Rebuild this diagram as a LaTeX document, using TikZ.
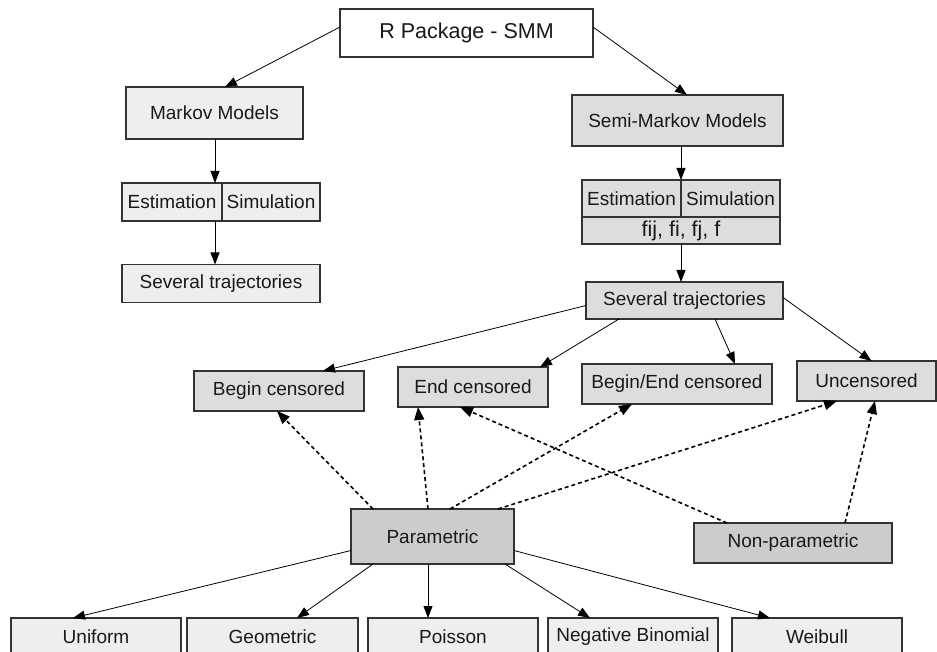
\documentclass[tikz,border=0pt]{standalone}
\usepackage{fontspec}
\setmainfont{Liberation Sans}
\usetikzlibrary{arrows.meta,calc}
\definecolor{bd}{HTML}{333333}
\definecolor{fa}{HTML}{EEEEEE}
\definecolor{fb}{HTML}{DDDDDD}
\definecolor{fc}{HTML}{CCCCCC}
\begin{document}
\begin{tikzpicture}[x=1pt,y=-1pt,
 box/.style={draw=bd,line width=1.1pt,rectangle,inner sep=0pt,outer sep=0pt,
   font=\fontsize{19}{22}\selectfont,text=black!90},
 solidarrow/.style={line width=0.8pt,-{Triangle[length=12pt,width=9pt]}},
 dasharrow/.style={line width=1.6pt,dash pattern=on 4pt off 3pt,-{Triangle[length=13pt,width=10pt]}},
]
\useasboundingbox[fill=white] (0,0) rectangle (937,652);

% top
\node[box,fill=white,minimum width=253pt,minimum height=48pt,font=\fontsize{21.5}{24}\selectfont] (pkg) at (466.5,33) {R Package - SMM};

% Markov side
\node[box,fill=fa,minimum width=177pt,minimum height=52pt] (mm) at (214.5,113) {Markov Models};
\node[box,fill=fa,minimum width=100pt,minimum height=38pt] (estL) at (172,202) {Estimation};
\node[box,fill=fa,minimum width=98pt,minimum height=38pt] (simL) at (271,202) {Simulation};
\node[box,fill=fa,minimum width=198pt,minimum height=38pt] (sevL) at (221,283.5) {Several trajectories};

% Semi-Markov side
\node[box,fill=fb,minimum width=211pt,minimum height=51pt] (smm) at (677.5,120.5) {Semi-Markov Models};
\node[box,fill=fb,minimum width=99pt,minimum height=37pt] (estR) at (631.5,198.5) {Estimation};
\node[box,fill=fb,minimum width=99pt,minimum height=37pt] (simR) at (730.5,198.5) {Simulation};
\node[box,fill=fb,minimum width=198pt,minimum height=27pt,font=\fontsize{21.5}{24}\selectfont] (fij) at (681,230.5) {fij, fi, fj, f};
\node[box,fill=fb,minimum width=197pt,minimum height=37pt] (sevR) at (684.5,300.5) {Several trajectories};

% censoring
\node[box,fill=fb,minimum width=170pt,minimum height=40pt] (bc) at (279,391) {Begin censored};
\node[box,fill=fb,minimum width=150pt,minimum height=40pt] (ec) at (473,387) {End censored};
\node[box,fill=fb,minimum width=190pt,minimum height=40pt] (bec) at (677,384) {Begin/End censored};
\node[box,fill=fb,minimum width=139pt,minimum height=40pt] (unc) at (866.5,381) {Uncensored};

% methods
\node[box,fill=fc,minimum width=163pt,minimum height=55pt] (par) at (432.5,536.5) {Parametric};
\node[box,fill=fc,minimum width=198pt,minimum height=40pt] (np) at (793,543) {Non-parametric};

% distributions
\node[box,fill=fa,minimum width=170pt,minimum height=38pt] (uni) at (96,637) {Uniform};
\node[box,fill=fa,minimum width=171pt,minimum height=38pt] (geo) at (272.5,637) {Geometric};
\node[box,fill=fa,minimum width=170pt,minimum height=38pt] (poi) at (453,637) {Poisson};
\node[box,fill=fa,minimum width=170pt,minimum height=38pt] (nb) at (633,637) {Negative Binomial};
\node[box,fill=fa,minimum width=170pt,minimum height=38pt] (wei) at (817,637) {Weibull};

% solid arrows
\draw[solidarrow] ($(pkg.west)+(0,-6)$) -- ($(mm.north)+(10.5,0)$);
\draw[solidarrow] ($(pkg.east)+(0,-6)$) -- ($(smm.north)+(9.5,0)$);
\draw[solidarrow] ($(mm.south)+(0.5,0)$) -- ($(mm.south |- estL.north)+(0.5,0)$);
\draw[solidarrow] ($(mm.south |- estL.south)+(0.5,0)$) -- ($(mm.south |- sevL.north)+(0.5,0)$);
\draw[solidarrow] (fij |- smm.south) -- (fij |- estR.north);
\draw[solidarrow] (fij.south) -- (fij.south |- sevR.north);

\draw[solidarrow] ($(sevR.west)+(0,5)$) -- ($(bc.north)+(44,0)$);
\draw[solidarrow] ($(sevR.south)+(-65.5,0)$) -- ($(ec.north east)+(-8,0)$);
\draw[solidarrow] ($(sevR.south)+(30.5,0)$) -- ($(bec.north)+(58,0)$);
\draw[solidarrow] ($(sevR.east)+(0,-3)$) -- ($(unc.north)+(5,0)$);

% dashed arrows
\draw[dasharrow] ($(par.north)+(-59.5,0)$) -- ($(bc.south)+(-2,0)$);
\draw[dasharrow] ($(par.north)+(-4.5,0)$) -- ($(ec.south)+(-55,0)$);
\draw[dasharrow] ($(par.north)+(17.5,0)$) -- ($(bec.south)+(-45,0)$);
\draw[dasharrow] ($(par.north)+(65.5,0)$) -- ($(unc.south)+(-29.5,0)$);
\draw[dasharrow] ($(np.north)+(-66,0)$) -- ($(ec.south)+(-13,0)$);
\draw[dasharrow] ($(np.north)+(52,0)$) -- ($(unc.south)+(8.5,0)$);

% parametric to distributions
\draw[solidarrow] ($(par.west)+(0,14)$) -- ($(uni.north)+(-23,0)$);
\draw[solidarrow] ($(par.south)+(-59.5,0)$) -- ($(geo.north)+(24.5,0)$);
\draw[solidarrow] ($(par.south)+(-4.5,0)$) -- ($(par.south |- poi.north)+(-4.5,0)$);
\draw[solidarrow] ($(par.south)+(72.5,0)$) -- ($(nb.north)+(-43,0)$);
\draw[solidarrow] ($(par.east)+(0,14)$) -- ($(wei.north)+(-47,0)$);
\end{tikzpicture}
\end{document}
